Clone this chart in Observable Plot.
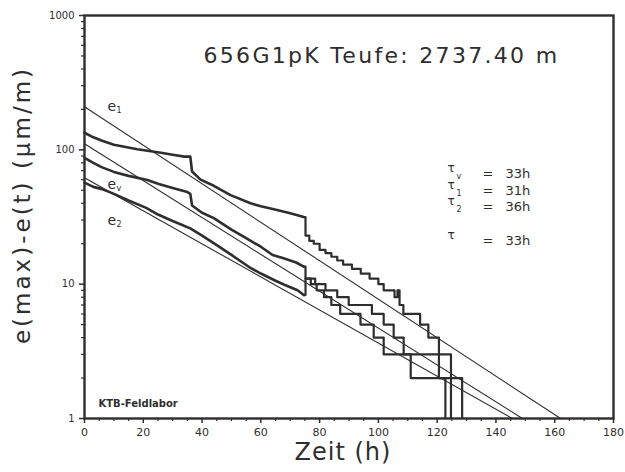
<!DOCTYPE html>
<html><head><meta charset="utf-8">
<script src="https://cdn.jsdelivr.net/npm/d3@7"></script>
<script src="https://cdn.jsdelivr.net/npm/@observablehq/plot@0.6"></script>
<style>
body{margin:0;background:#fff;}
#chart svg{display:block;}
</style></head><body><div id="chart"></div>
<script>
// ---------- data ----------
const xTicks = [0,20,40,60,80,100,120,140,160,180];
const xMinorTicks = [5,10,15,25,30,35,45,50,55,65,70,75,85,90,95,105,110,115,125,130,135,145,150,155,165,170,175];
const yTicks = [1,10,100,1000];
const yMinorTicks = [2,3,4,5,6,7,8,9,20,30,40,50,60,70,80,90,200,300,400,500,600,700,800,900];

const titleText = "656G1pK Teufe: 2737.40 m";
const xLabel = "Zeit (h)";
const yLabel = "e(max)-e(t) (µm/m)";
const labLabel = "KTB-Feldlabor";

const seriesNames = ["e1","ev","e2"];
const seriesSubs = ["1","v","2"];

// fitted exponential decays (straight lines on log axis): endpoints
const e1FitT = [0,162];   const e1FitV = [209,1];
const evFitT = [0,149];   const evFitV = [111,1];
const e2FitT = [0,145.6]; const e2FitV = [62,1];

// measured curves, continuous part
const e1T = [0,3,6,10,14,18,22,26,30,34,36.0,36.6,39.5,44,49.7,56.5,60,65.5,70,74.6];
const e1V = [134,124,117,109,105,101,98,95,92,89,89,69,60,54,46,40,38,35.7,33.7,31.6];
const evT = [0,3,6,10,15,21.4,25,30,35,36.0,36.6,40,44,50,55,60,64,68,72,74.6];
const evV = [87,80,74,68.5,64,59.7,56,52,48.5,47,38.5,34,31,25.5,22,19,16.5,15.5,14.5,13.5];
const e2T = [0,3,6,10,15,21,25,30,36,40,45,50,56.5,60,65,68,72.5,74.6];
const e2V = [57,53,51,47,42,37,33,29.5,26,23,19.5,16.5,13.2,12,10.6,9.9,9,8.3];

// measured curves, quantised part (last level 0.5 = below axis, falls to zero)
const e1StepT = [74.6,75.2,76.5,78,80,82,84,86,88,91,94,97,100,101.8,105.5,106.5,107.2,108.5,114.2,117,120.6,128.5];
const e1StepV = [31.6,23,21,20,18,17,16,15,14,13,12,11,10,9,8,9,7,6,5,4,2,0.5];
const evStepT = [74.6,75.2,78.5,82,86,89.9,97.8,101.8,105.2,108.6,124.7];
const evStepV = [13.5,11,10,9,8,7,6,5,4,3,0.5];
const e2StepT = [74.6,75.2,77,79,81.5,84,87,93.9,98.4,101.8,111,122.8];
const e2StepV = [8.3,11,10,9,8,7,6,5,4,3,2,0.5];

const tauSubs = ["v","1","2",""];
const tauValues = ["33h","31h","36h","33h"];

// ---------- build tables ----------
const rows = (series, T, V) => T.map((t,i) => ({series, t, v: V[i]}));
const fits = [...rows("e1",e1FitT,e1FitV), ...rows("ev",evFitT,evFitV), ...rows("e2",e2FitT,e2FitV)];
const smooth = [...rows("e1",e1T,e1V), ...rows("ev",evT,evV), ...rows("e2",e2T,e2V)];
const steps = [...rows("e1",e1StepT,e1StepV), ...rows("ev",evStepT,evStepV), ...rows("e2",e2StepT,e2StepV)];

const ink = "#2e2e2e";
const ML = 84, MT = 15;
const font = "DejaVu Sans, sans-serif";

// annotation helpers (frame-relative pixel placement)
const at = (x, y) => ({frameAnchor: "top-left", dx: x - ML, dy: y - MT, lineAnchor: "middle", textAnchor: "start"});

const tauRowY = [173,190,206,240];
const tauMarks = tauValues.flatMap((val, i) => [
  Plot.text(["τ"], {...at(447, tauRowY[i] - 5), text: d => d, fontSize: 12, fill: ink}),
  Plot.text([tauSubs[i]], {...at(456, tauRowY[i] + 3), text: d => d, fontSize: 8, fill: ink}),
  Plot.text(["="], {...at(482, tauRowY[i]), text: d => d, fontSize: 13, fill: ink}),
  Plot.text([val], {...at(505, tauRowY[i]), text: d => d, fontSize: 13, fill: ink})
]);

const curveLabelY = [106,184,220];
const curveLabelMarks = seriesNames.flatMap((n, i) => [
  Plot.text(["e"], {...at(107, curveLabelY[i]), text: d => d, fontSize: 14, fill: ink}),
  Plot.text([seriesSubs[i]], {...at(116, curveLabelY[i] + 4), text: d => d, fontSize: 8, fill: ink})
]);

const plot = Plot.plot({
  width: 625, height: 472,
  marginLeft: ML, marginRight: 12, marginTop: MT, marginBottom: 54,
  style: {fontFamily: font, background: "#fff", color: ink, overflow: "visible"},
  x: {domain: [0,180], label: null},
  y: {type: "log", domain: [1,1000], label: null},
  marks: [
    Plot.axisX(xMinorTicks, {tickSize: 3, text: null, strokeWidth: 1.2, stroke: ink}),
    Plot.axisX(xTicks, {tickSize: 5, tickPadding: 5, fontSize: 11, strokeWidth: 1.5, stroke: ink, fill: ink, tickFormat: d => String(d), label: null}),
    Plot.axisY(yMinorTicks, {tickSize: 3, text: null, strokeWidth: 1.2, stroke: ink}),
    Plot.axisY(yTicks, {tickSize: 5, tickPadding: 5, fontSize: 10, strokeWidth: 1.5, stroke: ink, fill: ink, tickFormat: d => String(d), label: null}),
    Plot.line(fits, {x: "t", y: "v", z: "series", stroke: ink, strokeWidth: 1.1}),
    Plot.line(smooth, {x: "t", y: "v", z: "series", stroke: ink, strokeWidth: 2.6, strokeLinejoin: "round"}),
    Plot.line(steps, {x: "t", y: "v", z: "series", curve: "step-after", stroke: ink, strokeWidth: 2.2, clip: true}),
    Plot.frame({stroke: ink, strokeWidth: 2.4}),
    Plot.text([titleText], {...at(203, 55), text: d => d, fontSize: 22, fill: ink}),
    Plot.text([xLabel], {frameAnchor: "bottom", dx: -6, dy: 34, lineAnchor: "middle", textAnchor: "middle", text: d => d, fontSize: 24, fill: ink}),
    Plot.text([yLabel], {frameAnchor: "left", dx: -62, dy: -12, rotate: -90, lineAnchor: "middle", textAnchor: "middle", text: d => d, fontSize: 23, fill: ink}),
    Plot.text([labLabel], {...at(98, 403), text: d => d, fontSize: 10, fontWeight: "bold", fill: ink}),
    ...tauMarks,
    ...curveLabelMarks
  ]
});

// letter spacing to mimic the wide plotter font
d3.select(plot).selectAll("text").each(function() {
  const s = this.textContent;
  if (s === titleText) this.setAttribute("letter-spacing", "2.3");
  if (s === yLabel) this.setAttribute("letter-spacing", "3");
  if (s === xLabel) this.setAttribute("letter-spacing", "1");
});

document.getElementById("chart").appendChild(plot);
</script></body></html>
